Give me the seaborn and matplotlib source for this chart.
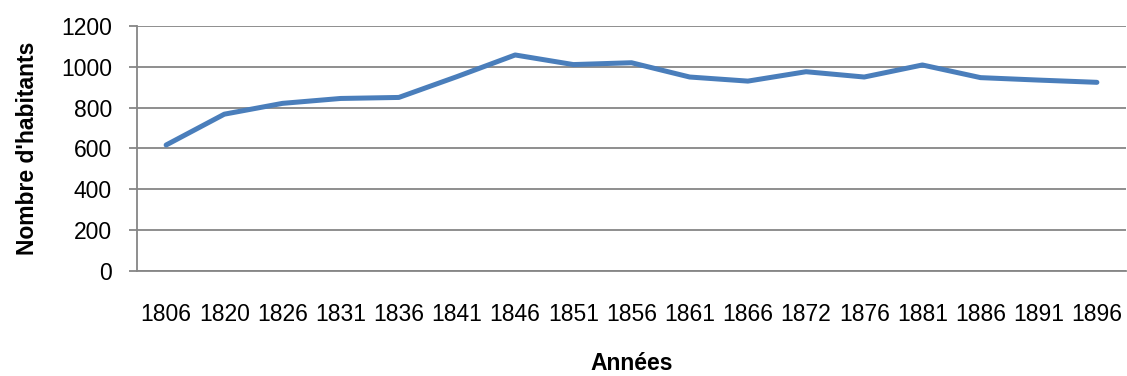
import matplotlib
matplotlib.use("Agg")
import matplotlib.pyplot as plt
import seaborn as sns
import pandas as pd

# Population by census year
annees = ["1806", "1820", "1826", "1831", "1836", "1841", "1846", "1851", "1856",
          "1861", "1866", "1872", "1876", "1881", "1886", "1891", "1896"]
habitants = [617, 768, 821, 845, 850, 952, 1058, 1011, 1020,
             950, 930, 976, 950, 1009, 947, 935, 924]
y_ticks = [0, 200, 400, 600, 800, 1000, 1200]

sns.set_theme(style="white")
plt.rcParams["font.family"] = ["Liberation Sans", "DejaVu Sans"]

df = pd.DataFrame({"Années": annees, "Nombre d'habitants": habitants})

fig = plt.figure(figsize=(11.27, 3.76), dpi=100)
ax = fig.add_axes([0.1216, 0.2793, 0.9991 - 0.1216, 0.9309 - 0.2793])

sns.lineplot(data=df, x="Années", y="Nombre d'habitants", ax=ax,
             color="#4a7ebb", linewidth=3.6, sort=False,
             solid_capstyle="round", solid_joinstyle="round")

grid_col = "#868686"
ax.set_ylim(0, 1200)
ax.set_yticks(y_ticks)
ax.set_xlim(-0.5, len(annees) - 0.5)
ax.yaxis.grid(True, color=grid_col, linewidth=1.3)
ax.xaxis.grid(False)
ax.set_axisbelow(True)

for side in ("top", "right"):
    ax.spines[side].set_visible(False)
for side in ("left", "bottom"):
    ax.spines[side].set_color(grid_col)
    ax.spines[side].set_linewidth(1.3)

ax.tick_params(axis="y", which="major", left=True, length=6, width=1.3,
               color=grid_col, pad=12, labelsize=16.5, labelcolor="black")
ax.tick_params(axis="x", which="major", bottom=False, length=0,
               pad=23, labelsize=16.5, labelcolor="black")

ax.set_xlabel("Années", fontsize=16.5, fontweight="bold", labelpad=19, color="black")
ax.set_ylabel("Nombre d'habitants", fontsize=16.5, fontweight="bold", labelpad=16, color="black")

fig.savefig("out.png", dpi=100)
